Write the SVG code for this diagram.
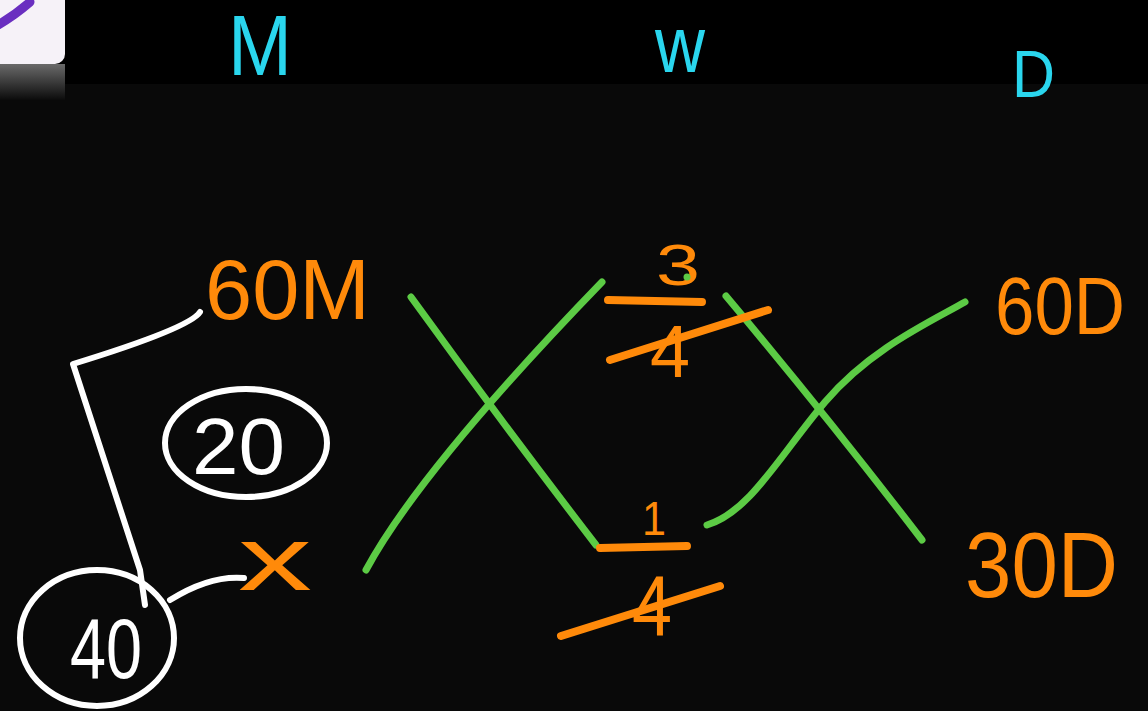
<svg xmlns="http://www.w3.org/2000/svg" width="1148" height="711" viewBox="0 0 1148 711">
<defs>
<linearGradient id="shade" x1="0" y1="0" x2="0" y2="1">
<stop offset="0" stop-color="#6a6a6a"/>
<stop offset="1" stop-color="#0b0b0b"/>
</linearGradient>
<style>
.hd{fill:#2ad6ee;font-family:"Liberation Sans",Arial,sans-serif;}
.or{fill:#ff8a0a;font-family:"Liberation Sans",Arial,sans-serif;}
.wt{fill:#ffffff;font-family:"Liberation Sans",Arial,sans-serif;}
.os{stroke:#ff8a0a;stroke-width:8;fill:none;stroke-linecap:round;}
.gs{stroke:#5ccb45;stroke-width:7;fill:none;stroke-linecap:round;}
.ws{stroke:#ffffff;stroke-width:6;fill:none;stroke-linecap:round;stroke-linejoin:round;}
</style>
</defs>
<rect x="0" y="0" width="1148" height="711" fill="#000000"/>
<rect x="0" y="84" width="1148" height="627" fill="#090909"/>
<g id="app-icon">
<rect x="-14" y="-14" width="79" height="78" rx="10" fill="#f6f2f8"/>
<rect x="0" y="64" width="65" height="36" fill="url(#shade)"/>
<path d="M-2,25 Q15,15 30,2" stroke="#6a2fc0" stroke-width="9" fill="none" stroke-linecap="round"/>
</g>
<g id="headers">
<text id="hM" class="hd" x="228" y="75" font-size="85" textLength="64" lengthAdjust="spacingAndGlyphs">M</text>
<text id="hW" class="hd" x="655" y="72" font-size="80" textLength="50" lengthAdjust="spacingAndGlyphs">w</text>
<text id="hD" class="hd" x="1012" y="97" font-size="66" textLength="43" lengthAdjust="spacingAndGlyphs">D</text>
</g>
<g id="connectors">
<path class="gs" d="M411,297 Q500,420 596,545"/>
<path class="gs" d="M366,570 Q420,470 602,282"/>
<path class="gs" d="M726,296 Q830,420 922,540"/>
<path class="gs" d="M707,525 C750,512 780,455 825,402 S930,322 965,302"/>
<path class="ws" d="M200,312 Q190,328 73,364 L140,570 L145,605"/>
<path class="ws" d="M170,600 Q210,575 244,578"/>
</g>
<g id="n60M"><text class="or" x="205" y="319" font-size="86" textLength="165" lengthAdjust="spacingAndGlyphs">60M</text></g>
<g id="nx"><text class="or" x="238" y="590" font-size="90" textLength="74" lengthAdjust="spacingAndGlyphs">x</text></g>
<g id="n34">
<text class="or" x="656" y="285" font-size="58" textLength="44" lengthAdjust="spacingAndGlyphs">3</text>
<circle cx="687" cy="277" r="3.5" fill="#5ccb45"/>
<path class="os" d="M608,300 L702,302"/>
<text class="or" x="650" y="377" font-size="74" textLength="40" lengthAdjust="spacingAndGlyphs">4</text>
<path class="os" d="M610,360 L768,310"/>
</g>
<g id="n14">
<text class="or" x="642" y="535" font-size="48" textLength="24" lengthAdjust="spacingAndGlyphs">1</text>
<path class="os" d="M600,548 L687,546"/>
<text class="or" x="632" y="635" font-size="86" textLength="40" lengthAdjust="spacingAndGlyphs">4</text>
<path class="os" d="M561,636 L720,586"/>
</g>
<g id="n60D"><text class="or" x="995" y="334" font-size="82" textLength="130" lengthAdjust="spacingAndGlyphs">60D</text></g>
<g id="n30D"><text class="or" x="965" y="597" font-size="92" textLength="153" lengthAdjust="spacingAndGlyphs">30D</text></g>
<g id="n20">
<ellipse class="ws" cx="246" cy="443" rx="81" ry="54"/>
<text class="wt" x="192" y="474" font-size="80" textLength="93" lengthAdjust="spacingAndGlyphs">20</text>
</g>
<g id="n40">
<ellipse class="ws" cx="97" cy="638" rx="77" ry="68"/>
<text class="wt" x="70" y="678" font-size="86" textLength="72" lengthAdjust="spacingAndGlyphs">40</text>
</g>
</svg>
